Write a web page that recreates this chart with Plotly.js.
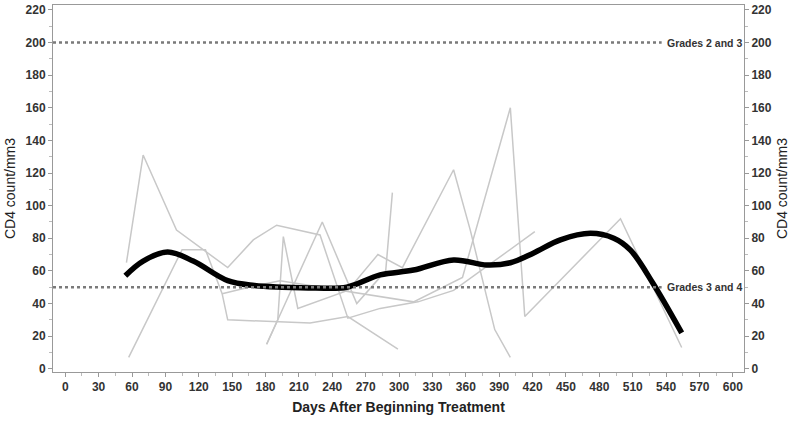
<!DOCTYPE html>
<html>
<head>
<meta charset="utf-8">
<script src="https://cdn.plot.ly/plotly-3.0.1.min.js"></script>
<style>
  html, body { margin: 0; padding: 0; background: #fff; }
  #chart { width: 800px; height: 421px; }
</style>
</head>
<body>
<div id="chart"></div>
<script>
// individual patient CD4 trajectories (days, count)
const patientDays = [
  [55, 70, 100, 146, 169, 190, 229, 254, 283, 317, 349, 422],
  [57, 105, 126, 141, 146, 193, 220, 254, 299],
  [141, 165, 193, 211, 313, 357, 400, 413, 499, 554],
  [181, 191, 196, 209, 254, 281, 303, 349, 364, 386, 400],
  [181, 231, 262, 288, 294]
];
const patientCounts = [
  [65, 131, 85, 62, 79, 88, 82, 31, 37, 41, 48, 84],
  [7, 73, 73, 46, 30, 29, 28, 32, 12],
  [46, 50, 54, 52, 41, 56, 160, 32, 92, 13],
  [15, 30, 81, 37, 48, 70, 62, 122, 85, 24, 7],
  [15, 90, 40, 60, 108]
];

// smoothed mean curve
const meanDays = [54, 70, 92, 115, 146, 170, 195, 225, 253, 283, 313, 349, 379, 400, 421, 445, 472, 493, 508, 528, 554];
const meanCounts = [57, 66, 71.5, 66, 54, 51, 50, 49.5, 50, 57.5, 60.5, 66.7, 63.6, 65, 71, 79, 83, 80, 72.7, 52.6, 22];

// toxicity grade thresholds
const gradeLevels = [200, 50];
const gradeLabels = ['Grades 2 and 3', 'Grades 3 and 4'];
const gradeLineEnd = 536;

const fontFamily = '"Liberation Sans", Arial, sans-serif';
const textColor = '#333';

const traces = patientDays.map((days, i) => ({
  x: days,
  y: patientCounts[i],
  type: 'scatter',
  mode: 'lines',
  line: { color: '#c8c8c8', width: 1.5 },
  hoverinfo: 'skip',
  showlegend: false
}));

traces.push({
  x: meanDays,
  y: meanCounts,
  type: 'scatter',
  mode: 'lines',
  line: { color: '#000', width: 5.5, shape: 'spline', smoothing: 1 },
  showlegend: false
});

// invisible trace so the right axis is drawn
traces.push({ x: [null], y: [null], yaxis: 'y2', type: 'scatter', showlegend: false });

const shapes = gradeLevels.map(level => ({
  type: 'line',
  xref: 'x',
  yref: 'y',
  x0: -11,
  x1: gradeLineEnd,
  y0: level,
  y1: level,
  line: { color: '#7a7a7a', width: 2.5, dash: 'dot' }
}));

const annotations = gradeLevels.map((level, i) => ({
  x: gradeLineEnd + 3,
  y: level,
  xref: 'x',
  yref: 'y',
  text: gradeLabels[i],
  showarrow: false,
  xanchor: 'left',
  yanchor: 'middle',
  font: { family: fontFamily, size: 10.5, color: textColor, weight: 'bold' }
}));

const yAxisCommon = {
  range: [-2, 223],
  tickvals: [0, 20, 40, 60, 80, 100, 120, 140, 160, 180, 200, 220],
  ticks: 'outside',
  ticklen: 4,
  tickcolor: '#999',
  minor: { dtick: 10, ticks: 'outside', ticklen: 3, tickcolor: '#bbb' },
  showline: true,
  linecolor: '#999',
  linewidth: 1,
  showgrid: false,
  zeroline: false,
  tickfont: { family: fontFamily, size: 12, color: textColor, weight: 'bold' },
  title: {
    text: 'CD4 count/mm3',
    font: { family: fontFamily, size: 14, color: '#222' },
    standoff: 6
  }
};

const layout = {
  width: 800,
  height: 421,
  margin: { l: 53, r: 56, t: 5, b: 49 },
  paper_bgcolor: '#fff',
  plot_bgcolor: '#fff',
  showlegend: false,
  xaxis: {
    range: [-11, 610],
    tick0: 0,
    dtick: 30,
    ticks: 'outside',
    ticklen: 4,
    tickcolor: '#999',
    minor: { dtick: 15, ticks: 'outside', ticklen: 3, tickcolor: '#bbb' },
    showline: true,
    mirror: true,
    linecolor: '#999',
    linewidth: 1,
    showgrid: false,
    zeroline: false,
    tickfont: { family: fontFamily, size: 12, color: textColor, weight: 'bold' },
    title: {
      text: 'Days After Beginning Treatment',
      font: { family: fontFamily, size: 14, color: '#222', weight: 'bold' },
      standoff: 8
    }
  },
  yaxis: Object.assign({}, yAxisCommon),
  yaxis2: Object.assign({}, yAxisCommon, { overlaying: 'y', side: 'right' }),
  shapes: shapes,
  annotations: annotations
};

Plotly.newPlot('chart', traces, layout, { displayModeBar: false, staticPlot: true });
</script>
</body>
</html>
